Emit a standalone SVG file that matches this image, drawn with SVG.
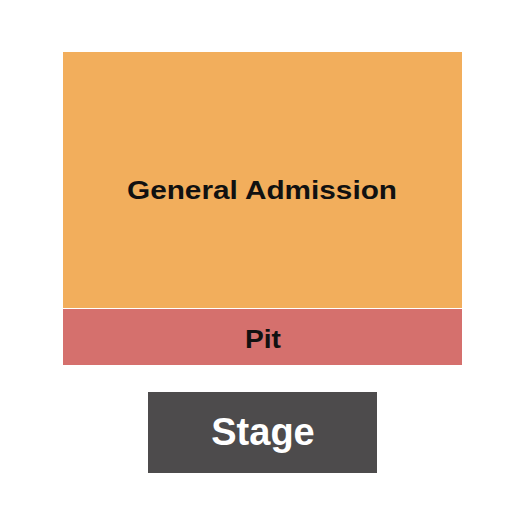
<svg xmlns="http://www.w3.org/2000/svg" width="525" height="525" viewBox="0 0 525 525">
<style>
text{font-family:"Liberation Sans",Arial,sans-serif;font-weight:bold;text-anchor:middle}
.lbl{fill:#111111;font-size:26px}
.stg{fill:#ffffff;font-size:38px}
</style>
<rect width="525" height="525" fill="#ffffff"/>
<g id="general-admission">
<rect x="63" y="52" width="399" height="256" fill="#F2AE5C"/>
<text class="lbl" x="262" y="199" textLength="270" lengthAdjust="spacingAndGlyphs">General Admission</text>
</g>
<g id="pit">
<rect x="63" y="309" width="399" height="56" fill="#D5706D"/>
<text class="lbl" x="263" y="348" textLength="36" lengthAdjust="spacingAndGlyphs">Pit</text>
</g>
<g id="stage">
<rect x="148" y="392" width="229" height="81" fill="#4D4B4C"/>
<text class="stg" x="263" y="445">Stage</text>
</g>
<g id="connectors"/>
</svg>
